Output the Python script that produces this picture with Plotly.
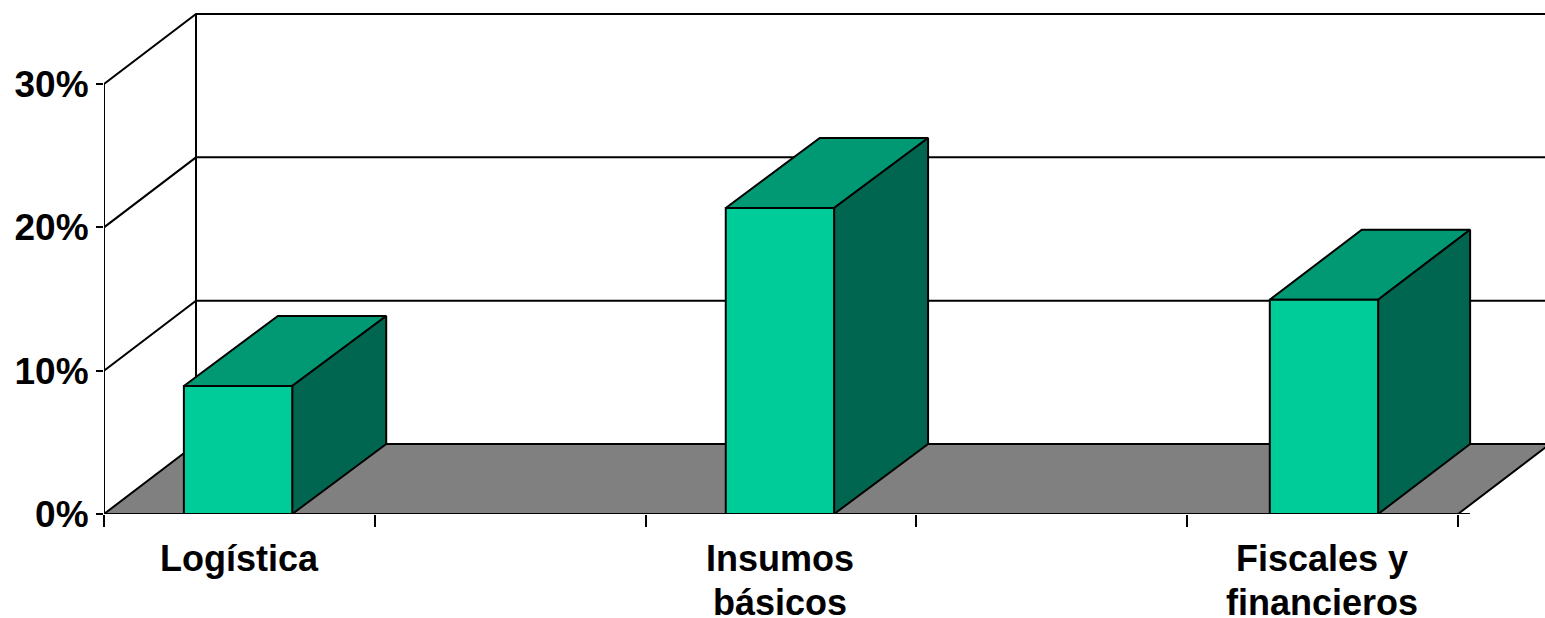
import plotly.graph_objects as go

category_lines = [["Logística"], [], ["Insumos", "básicos"], [], ["Fiscales y", "financieros"]]
bar_values = [8.93, 0, 21.35, 0, 14.95]
bar_centres = [0.495, 1.5, 2.496, 3.5, 4.505]
bar_depth_px = [94, 0, 94, 0, 92]
y_ticks = [0, 10, 20, 30]
y_tick_labels = ["0%", "10%", "20%", "30%"]

FONT = "Liberation Sans, Arial, sans-serif"
BLACK = "#000000"
FRONT, TOP, SIDE, FLOOR = "#00CC99", "#009973", "#006650", "#808080"
LW = 2

PX_PER_CAT = 270.8
PX_PER_PCT = 14.333
n = len(category_lines)
DX = 92 / PX_PER_CAT      # depth of the 3-D box, category units
DY = 70 / PX_PER_PCT      # depth of the 3-D box, percent units
BAR_W = 0.4
X_MAX = 1441 / PX_PER_CAT
Y_MAX = 514 / PX_PER_PCT

fig = go.Figure()


def poly(xs, ys, fill=None):
    kw = dict(fill="toself", fillcolor=fill) if fill else {}
    fig.add_trace(go.Scatter(x=xs, y=ys, mode="lines", line=dict(color=BLACK, width=LW),
                             hoverinfo="skip", showlegend=False, cliponaxis=False, **kw))


# floor
poly([0, DX, n + DX, n, 0], [0, DY, DY, 0, 0], FLOOR)
# left wall edges and back wall gridlines
poly([0, 0], [0, y_ticks[-1]])
poly([DX, DX], [DY, y_ticks[-1] + DY])
for t in y_ticks[1:]:
    poly([0, DX, X_MAX], [t, t + DY, t + DY])
# front edge of the floor
poly([0, n + 0.044], [0, 0])

# bars
for c, v, d in zip(bar_centres, bar_values, bar_depth_px):
    if not v:
        continue
    l = c - BAR_W / 2
    r = c + BAR_W / 2
    dx = d / PX_PER_CAT
    poly([l, r, r + dx, l + dx, l], [v, v, v + DY, v + DY, v], TOP)
    poly([r, r + dx, r + dx, r, r], [0, DY, v + DY, v, 0], SIDE)
    poly([l, r, r, l, l], [0, 0, v, v, 0], FRONT)

# category labels, one text per line for the tight line spacing
for i, lines in enumerate(category_lines):
    for j, line in enumerate(lines):
        fig.add_annotation(
            x=i + 0.5 - (0.004 if i else 0), xref="x", y=0, yref="paper", yanchor="middle",
            yshift=-44 * (j + 1), text=line, showarrow=False, height=30 if j else None,
            font=dict(family=FONT, size=36, color=BLACK, weight=700),
        )

fig.update_layout(
    width=1545, height=618,
    margin=dict(l=104, r=0, t=0, b=104, pad=0, autoexpand=False),
    paper_bgcolor="white", plot_bgcolor="white",
    font=dict(family=FONT, size=36, color=BLACK),
    showlegend=False,
    xaxis=dict(
        range=[0, X_MAX], showgrid=False, zeroline=False, showline=False,
        automargin=False, tickvals=list(range(n + 1)), ticktext=[""] * (n + 1),
        ticks="outside", ticklen=12, tickwidth=LW, tickcolor=BLACK,
    ),
    yaxis=dict(
        range=[0, Y_MAX], showgrid=False, zeroline=False, showline=False,
        automargin=False,
        tickvals=y_ticks, ticktext=y_tick_labels, ticks="outside", ticklen=7,
        tickwidth=LW, tickcolor=BLACK,
        tickfont=dict(family=FONT, size=37, color=BLACK, weight=700),
    ),
)

fig.write_html("out.html", config=dict(displayModeBar=False),
               post_script="document.body.style.margin='0';")
